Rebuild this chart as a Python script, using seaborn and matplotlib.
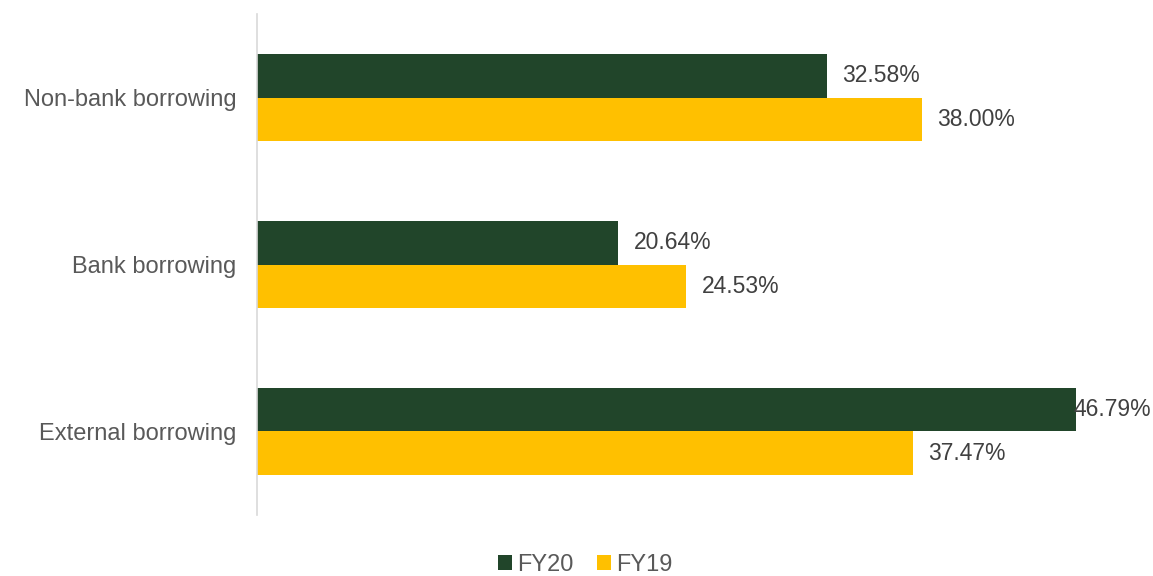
import pandas as pd
import matplotlib.pyplot as plt
import seaborn as sns

# data
categories = ['Non-bank borrowing', 'Bank borrowing', 'External borrowing']
fy20 = [32.58, 20.64, 46.79]
fy19 = [38.00, 24.53, 37.47]
series = ['FY20', 'FY19']

df = pd.DataFrame({
    'category': categories * 2,
    'value': fy20 + fy19,
    'year': ['FY20'] * 3 + ['FY19'] * 3,
})

sns.set_style('white')
plt.rcParams['font.family'] = ['Liberation Sans', 'DejaVu Sans']

fig = plt.figure(figsize=(11.53, 5.76), dpi=100)
ax = fig.add_axes([0.2229, 0.106, 0.7589, 0.8694])

palette = {'FY20': '#21452A', 'FY19': '#FFC000'}
sns.barplot(data=df, y='category', x='value', hue='year', hue_order=series,
            order=categories, palette=palette, width=0.52, orient='h',
            saturation=1, linewidth=0, ax=ax, legend=True)

# value labels
for container in ax.containers:
    texts = ax.bar_label(container, labels=[f'{v:.2f}%' for v in container.datavalues],
                         padding=11, fontsize=16.5, color='#404040')
    for t, v in zip(texts, container.datavalues):
        if v > 45:  # label squeezed against the edge like in the original
            t.xyann = (-2, 0)

ax.set_xlim(0, 50)
ax.set_xlabel('')
ax.set_ylabel('')
ax.set_xticks([])
ax.tick_params(axis='y', length=0, labelsize=17, labelcolor='#595959', pad=15)
for s in ['top', 'right', 'bottom']:
    ax.spines[s].set_visible(False)
ax.spines['left'].set_color('#D9D9D9')
ax.spines['left'].set_linewidth(1.2)

ax.legend(loc='lower center', bbox_to_anchor=(0.375, -0.14), ncol=2, frameon=False,
          fontsize=17, labelcolor='#595959', handlelength=0.6, handleheight=0.6,
          handletextpad=0.2, columnspacing=1.0, borderaxespad=0)

plt.savefig('out.png', dpi=100)
